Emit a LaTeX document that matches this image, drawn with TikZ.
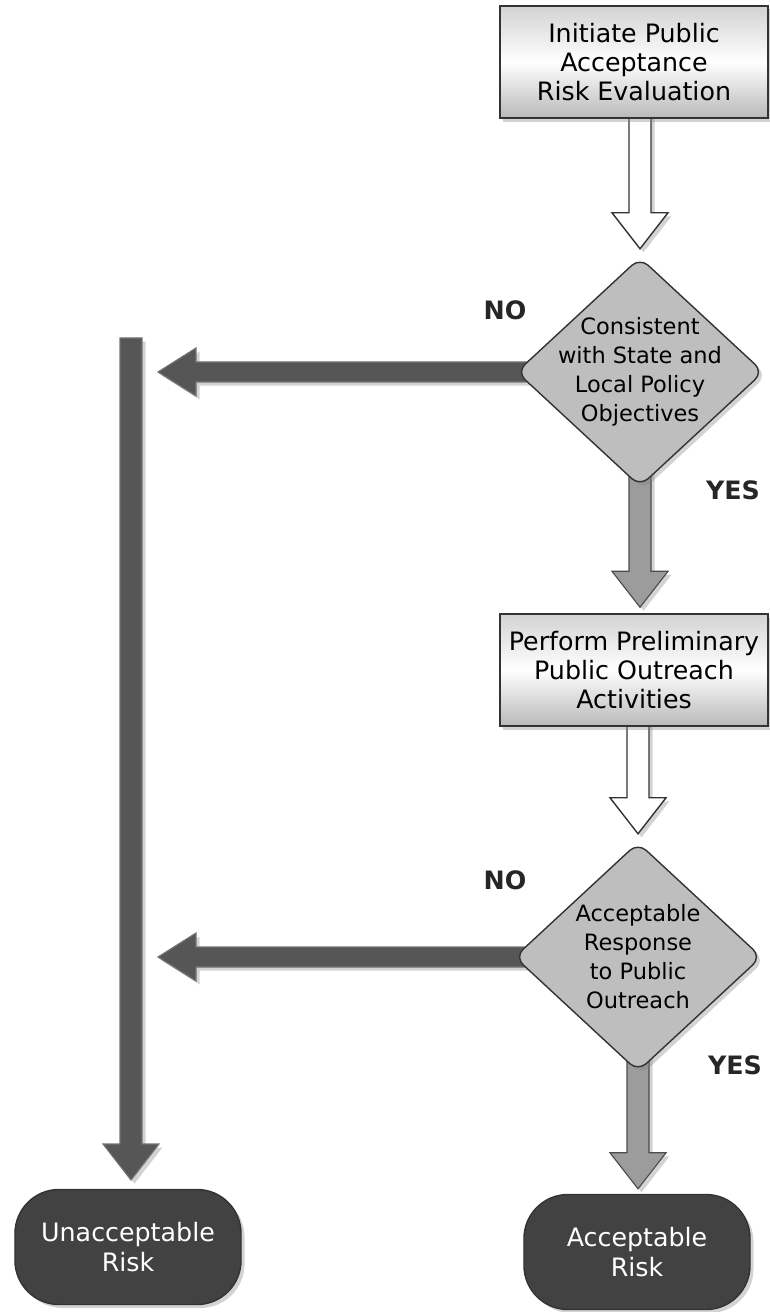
\documentclass[tikz,border=0pt]{standalone}
\usepackage{fontspec}
\setmainfont{DejaVu Sans}
\usetikzlibrary{shapes.geometric,shadows,calc,backgrounds}

\definecolor{boxedge}{HTML}{333333}
\definecolor{darkarrow}{HTML}{565656}
\definecolor{yesarrow}{HTML}{9C9C9C}
\definecolor{decfill}{HTML}{BEBEBE}
\definecolor{termfill}{HTML}{424242}

\newcommand{\txt}{\fontsize{18}{20.8}\selectfont}
\newcommand{\dtxt}{\fontsize{16}{20.6}\selectfont}

% block arrow pointing down: style, start, tip
\newcommand{\blkdown}[3]{%
  \draw[#1] ($(#2)+(-11,0)$) -- ($(#3)+(-11,-36)$) -- ($(#3)+(-28,-36)$) -- (#3)
    -- ($(#3)+(28,-36)$) -- ($(#3)+(11,-36)$) -- ($(#2)+(11,0)$) -- cycle;}
% block arrow pointing left: style, start, tip
\newcommand{\blkleft}[3]{%
  \draw[#1] ($(#2)+(0,-10)$) -- ($(#3)+(38,-10)$) -- ($(#3)+(38,-24)$) -- (#3)
    -- ($(#3)+(38,24)$) -- ($(#3)+(38,10)$) -- ($(#2)+(0,10)$) -- cycle;}

\begin{document}
\begin{tikzpicture}[x=0.025cm, y=-0.025cm,
  shade/.style={drop shadow={shadow xshift=2.5pt, shadow yshift=-2.5pt, opacity=.35}},
  taskbox/.style={rectangle, draw=boxedge, line width=1pt, shade,
    top color=gray!35, bottom color=gray!55, middle color=white,
    minimum width=6.7cm, minimum height=2.8cm, align=center, font=\txt},
  decision/.style={diamond, draw=boxedge, line width=1pt, fill=decfill, shade,
    rounded corners=8pt, minimum width=6.175cm, minimum height=5.725cm, inner sep=0pt},
  dectext/.style={align=center, font=\dtxt},
  terminal/.style={rectangle, rounded corners=1.1cm, draw=black!80, line width=1pt,
    fill=termfill, shade, text=white, minimum width=5.65cm, minimum height=2.875cm,
    align=center, font=\txt},
  answer/.style={font=\txt\bfseries, text=black!85},
  hollowarr/.style={draw=boxedge, line width=1pt, fill=white, shade},
  yesarr/.style={draw=black!70, line width=0.8pt, fill=yesarrow, shade},
  noarr/.style={draw=black!55, line width=0.8pt, fill=darkarrow, shade}]
  \useasboundingbox (0,0) rectangle (769,1312);

  % boxes and decisions
  \node[taskbox]  (init)     at (634,  62) {Initiate Public\\Acceptance\\Risk Evaluation};
  \node[decision] (d1)       at (640, 372) {};
  \node[dectext]  (d1txt)    at (d1.center) {Consistent\\with State and\\Local Policy\\Objectives};
  \node[taskbox]  (outreach) at (634, 670) {Perform Preliminary\\Public Outreach\\Activities};
  \node[decision] (d2)       at (638, 957) {};
  \node[dectext]  (d2txt)    at (d2.center) {Acceptable\\Response\\to Public\\Outreach};
  \node[terminal] (unacc)    at (128,1247) {Unacceptable\\Risk};
  \node[terminal] (acc)      at (637,1252) {Acceptable\\Risk};

  % answers
  \node[answer] (no1)  at (505, 310) {NO};
  \node[answer] (yes1) at (733, 490) {YES};
  \node[answer] (no2)  at (505, 880) {NO};
  \node[answer] (yes2) at (735,1065) {YES};

  % arrow ends
  \coordinate (bartop) at (131, 338);
  \coordinate (barend) at (131,1180);
  \coordinate (t1) at ($(d1.north)+(0,-8)$);
  \coordinate (t2) at ($(d1.center |- outreach.north)+(0,-6)$);
  \coordinate (t3) at ($(d2.north)+(0,-8)$);
  \coordinate (t4) at ($(d2.center |- acc.north)+(0,-5)$);
  \coordinate (n1) at ($(bartop |- d1.center)+(27,0)$);
  \coordinate (n2) at ($(bartop |- d2.center)+(27,0)$);

  \begin{scope}[on background layer]
    \blkdown{noarr}{bartop}{barend}
    \blkleft{noarr}{d1.center}{n1}
    \blkleft{noarr}{d2.center}{n2}
    \blkdown{hollowarr}{d1.north |- init.center}{t1}
    \blkdown{yesarr}{d1.center}{t2}
    \blkdown{hollowarr}{d2.north |- outreach.center}{t3}
    \blkdown{yesarr}{d2.center}{t4}
  \end{scope}
\end{tikzpicture}
\end{document}
